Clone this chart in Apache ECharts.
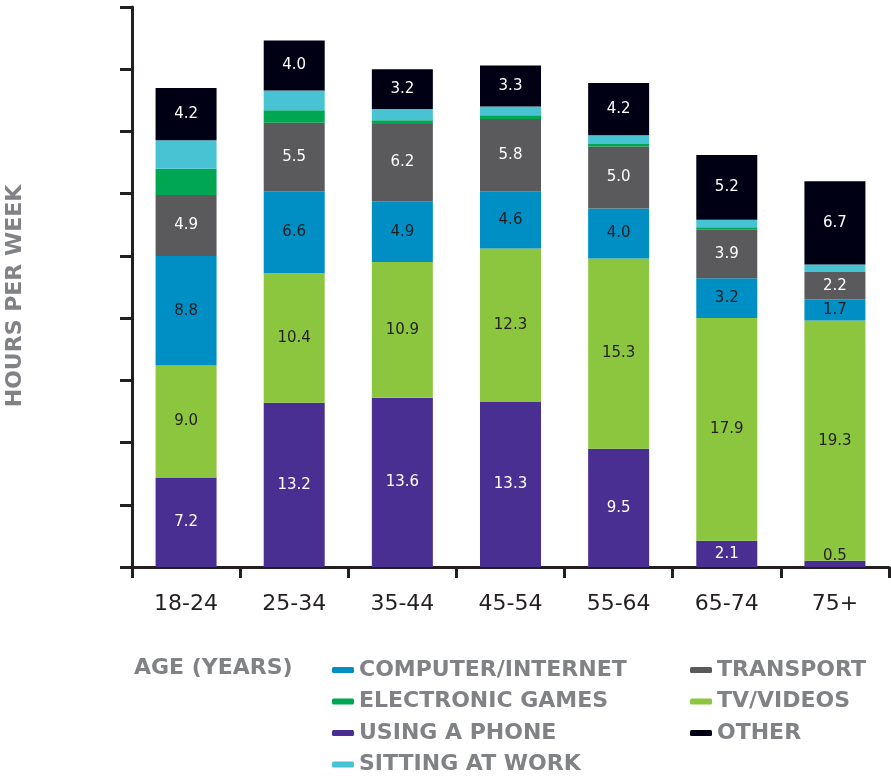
<!DOCTYPE html>
<html>
<head>
<meta charset="utf-8">
<style>
  html, body { margin: 0; padding: 0; background: #fff; }
  #chart-container { width: 891px; height: 777px; }
</style>
<script src="https://cdn.jsdelivr.net/npm/echarts@6/dist/echarts.min.js"></script>
</head>
<body>
<div id="chart-container"></div>
<script>
var ageGroups = ['18-24', '25-34', '35-44', '45-54', '55-64', '65-74', '75+'];

// hours per week, stacked bottom to top
var phone = [7.2, 13.2, 13.6, 13.3, 9.5, 2.1, 0.5];
var tvVideos = [9.0, 10.4, 10.9, 12.3, 15.3, 17.9, 19.3];
var computer = [8.8, 6.6, 4.9, 4.6, 4.0, 3.2, 1.7];
var transport = [4.9, 5.5, 6.2, 5.8, 5.0, 3.9, 2.2];
var games = [2.1, 1.0, 0.3, 0.3, 0.2, 0.2, 0];
var sittingWork = [2.3, 1.6, 0.9, 0.7, 0.7, 0.6, 0.6];
var other = [4.2, 4.0, 3.2, 3.3, 4.2, 5.2, 6.7];

var dark = '#231f20';
var grey = '#808285';
var font = 'DejaVu Sans';

var dom = document.getElementById('chart-container');
var myChart = echarts.init(dom, null, { renderer: 'canvas' });

function labelCfg(color) {
  return {
    show: true,
    position: 'inside',
    color: color,
    fontFamily: font,
    fontSize: 15,
    formatter: function (p) { return p.value.toFixed(1); }
  };
}

function barSeries(name, data, color, label) {
  return {
    name: name,
    type: 'bar',
    stack: 'total',
    barWidth: 61,
    data: data,
    itemStyle: { color: color },
    label: label || { show: false },
    emphasis: { disabled: true }
  };
}

// tiny segments get their label just above the bar
var phoneData = phone.map(function (v) {
  if (v < 1) {
    return { value: v, label: { position: 'top', color: dark, distance: -3 } };
  }
  return v;
});

var legendText = { color: grey, fontFamily: font, fontWeight: 'bold', fontSize: 22, lineHeight: 22 };

var option = {
  animation: false,
  textStyle: { fontFamily: font },
  title: {
    text: 'AGE (YEARS)',
    left: 134,
    top: 657,
    padding: 0,
    textStyle: { color: grey, fontFamily: font, fontWeight: 'bold', fontSize: 22 }
  },
  graphic: [
    {
      type: 'text',
      x: 15,
      y: 296,
      rotation: Math.PI / 2,
      style: {
        text: 'HOURS PER WEEK',
        fill: grey,
        font: 'bold 22px "DejaVu Sans"',
        align: 'center',
        verticalAlign: 'middle'
      }
    }
  ],
  legend: [
    {
      orient: 'vertical',
      left: 332,
      top: 659,
      padding: 0,
      itemGap: 9.5,
      itemWidth: 22,
      itemHeight: 6,
      icon: 'roundRect',
      textStyle: legendText,
      data: ['COMPUTER/INTERNET', 'ELECTRONIC GAMES', 'USING A PHONE', 'SITTING AT WORK']
    },
    {
      orient: 'vertical',
      left: 690,
      top: 659,
      padding: 0,
      itemGap: 9.5,
      itemWidth: 22,
      itemHeight: 6,
      icon: 'roundRect',
      textStyle: legendText,
      data: ['TRANSPORT', 'TV/VIDEOS', 'OTHER']
    }
  ],
  grid: { left: 132, right: 2, top: 7, bottom: 210, containLabel: false },
  xAxis: {
    type: 'category',
    data: ageGroups,
    axisLine: { lineStyle: { color: dark, width: 3 } },
    axisTick: { show: true, length: 11, lineStyle: { color: dark, width: 3 } },
    axisLabel: { color: dark, fontFamily: font, fontSize: 22, margin: 26 }
  },
  yAxis: {
    type: 'value',
    min: 0,
    max: 45,
    interval: 5,
    axisLine: { show: true, lineStyle: { color: dark, width: 3 } },
    axisTick: { show: true, length: 12, lineStyle: { color: dark, width: 3 } },
    axisLabel: { show: false },
    splitLine: { show: false }
  },
  series: [
    barSeries('USING A PHONE', phoneData, '#482f91', labelCfg('#ffffff')),
    barSeries('TV/VIDEOS', tvVideos, '#8cc63f', labelCfg(dark)),
    barSeries('COMPUTER/INTERNET', computer, '#008fc5', labelCfg(dark)),
    barSeries('TRANSPORT', transport, '#5a5a5c', labelCfg('#ffffff')),
    barSeries('ELECTRONIC GAMES', games, '#00a651'),
    barSeries('SITTING AT WORK', sittingWork, '#47c3d3'),
    barSeries('OTHER', other, '#000014', labelCfg('#ffffff'))
  ]
};

myChart.setOption(option);
window.addEventListener('resize', myChart.resize);
</script>
</body>
</html>
